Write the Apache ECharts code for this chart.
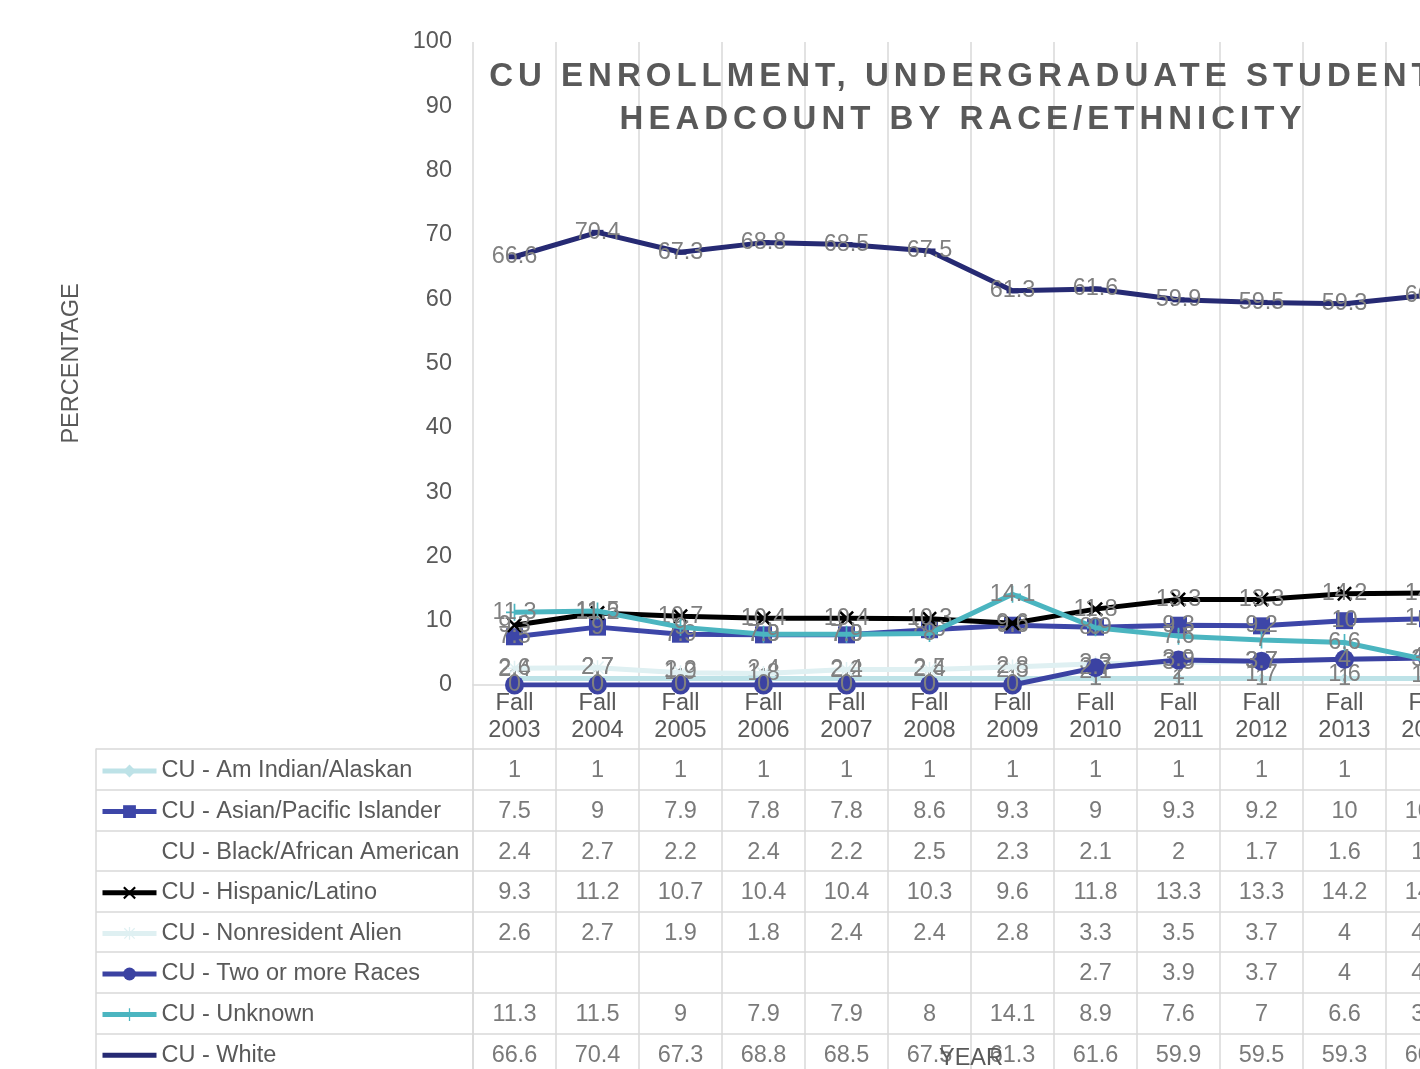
<!DOCTYPE html>
<html>
<head>
<meta charset="utf-8">
<script src="https://cdn.jsdelivr.net/npm/echarts@6/dist/echarts.min.js"></script>
<style>
  html, body { margin: 0; padding: 0; background: #fff; overflow: hidden; }
  /* the original chart runs past the right edge of the picture */
  #chart { width: 1480px; height: 1069px; }
</style>
</head>
<body>
<div id="chart"></div>
<script>
// spaced-out bold title, like the Excel style
var origFill = CanvasRenderingContext2D.prototype.fillText
CanvasRenderingContext2D.prototype.fillText = function (t, x, y, w) {
  this.letterSpacing = /bold|700/.test(this.font) ? '5px' : '0px'
  return w === undefined ? origFill.call(this, t, x, y) : origFill.call(this, t, x, y, w)
}

var categories = ['Fall 2003', 'Fall 2004', 'Fall 2005', 'Fall 2006', 'Fall 2007', 'Fall 2008',
  'Fall 2009', 'Fall 2010', 'Fall 2011', 'Fall 2012', 'Fall 2013', 'Fall 2014']
var seriesNames = ['CU - Am Indian/Alaskan', 'CU - Asian/Pacific Islander', 'CU - Black/African American',
  'CU - Hispanic/Latino', 'CU - Nonresident Alien', 'CU - Two or more Races', 'CU - Unknown', 'CU - White']
var amIndian = [1, 1, 1, 1, 1, 1, 1, 1, 1, 1, 1, 1]
var asian = [7.5, 9, 7.9, 7.8, 7.8, 8.6, 9.3, 9, 9.3, 9.2, 10, 10.3]
var black = [2.4, 2.7, 2.2, 2.4, 2.2, 2.5, 2.3, 2.1, 2, 1.7, 1.6, 1.5]
var hispanic = [9.3, 11.2, 10.7, 10.4, 10.4, 10.3, 9.6, 11.8, 13.3, 13.3, 14.2, 14.3]
var nonresident = [2.6, 2.7, 1.9, 1.8, 2.4, 2.4, 2.8, 3.3, 3.5, 3.7, 4, 4.3]
var twoOrMore = [null, null, null, null, null, null, null, 2.7, 3.9, 3.7, 4, 4.2]
var unknown = [11.3, 11.5, 9, 7.9, 7.9, 8, 14.1, 8.9, 7.6, 7, 6.6, 3.9]
var white = [66.6, 70.4, 67.3, 68.8, 68.5, 67.5, 61.3, 61.6, 59.9, 59.5, 59.3, 60.6]
var yTicks = [0, 10, 20, 30, 40, 50, 60, 70, 80, 90, 100]

var allValues = [amIndian, asian, black, hispanic, nonresident, twoOrMore, unknown, white]

var xPath = 'path://M1.2 0 L5 3.8 L8.8 0 L10 1.2 L6.2 5 L10 8.8 L8.8 10 L5 6.2 L1.2 10 L0 8.8 L3.8 5 L0 1.2 Z'
var plusPath = 'path://M4.5 0 H5.5 V4.5 H10 V5.5 H5.5 V10 H4.5 V5.5 H0 V4.5 H4.5 Z'
var starPath = 'path://M4.5 0 H5.5 V10 H4.5 Z M0 4.5 H10 V5.5 H0 Z M1.3 0.6 L9.4 8.7 L8.7 9.4 L0.6 1.3 Z M8.7 0.6 L9.4 1.3 L1.3 9.4 L0.6 8.7 Z'

var styles = [
  { color: '#bde2e7', symbol: 'diamond', size: 11 },
  { color: '#3d46a8', symbol: 'rect', size: 17 },
  { color: 'transparent', symbol: 'circle', size: 1 },
  { color: '#000000', symbol: xPath, size: 15 },
  { color: '#dff0f2', symbol: starPath, size: 15 },
  { color: '#3b42a2', symbol: 'circle', size: 19 },
  { color: '#4bb5c0', symbol: plusPath, size: 17 },
  { color: '#262a73', symbol: 'rect', size: [12, 5] }
]

var gray = '#d9d9d9'
var textColor = '#595959'
var font = 'Liberation Sans'
var fs = 23.5

var series = seriesNames.map(function (name, i) {
  var st = styles[i]
  return {
    name: name,
    type: 'line',
    xAxisIndex: 0,
    yAxisIndex: 0,
    // blanks are plotted as zero
    data: allValues[i].map(function (v) { return v == null ? 0 : v }),
    symbol: st.symbol,
    symbolSize: st.size,
    lineStyle: { width: 5, color: st.color },
    itemStyle: { color: st.color },
    label: {
      show: true,
      position: 'inside',
      color: '#808080',
      fontSize: fs,
      fontFamily: font
    },
    emphasis: { disabled: true },
    animation: false,
    z: 2 + i
  }
})

// data table cells
var cells = []
allValues.forEach(function (arr, r) {
  arr.forEach(function (v, c) {
    if (v != null) cells.push([c, r, v])
  })
})
series.push({
  type: 'scatter',
  xAxisIndex: 1,
  yAxisIndex: 1,
  data: cells,
  symbolSize: 1,
  itemStyle: { color: 'transparent' },
  label: {
    show: true,
    position: 'inside',
    offset: [0, 1.5],
    color: textColor,
    fontSize: fs,
    fontFamily: font,
    formatter: function (p) { return p.value[2] }
  },
  silent: true,
  animation: false
})

var legendData = seriesNames.map(function (name, i) {
  if (i === 2) return { name: name, itemStyle: { opacity: 0 }, lineStyle: { opacity: 0 } }
  if (i === 7) return { name: name, itemStyle: { opacity: 0 } }
  return { name: name }
})

var chart = echarts.init(document.getElementById('chart'))
chart.setOption({
  backgroundColor: '#fff',
  animation: false,
  title: {
    text: 'CU ENROLLMENT, UNDERGRADUATE STUDENT\nHEADCOUNT BY RACE/ETHNICITY',
    left: 958,
    top: 50,
    textAlign: 'center',
    textStyle: {
      color: textColor,
      fontSize: 33,
      fontWeight: 'bold',
      fontFamily: font,
      lineHeight: 43
    }
  },
  legend: {
    orient: 'vertical',
    left: 100,
    top: 759,
    padding: 0,
    itemWidth: 54,
    itemHeight: 16,
    itemGap: 16.6,
    data: legendData,
    selectedMode: false,
    lineStyle: { width: 5 },
    textStyle: { color: textColor, fontSize: fs, fontFamily: font, lineHeight: 24 }
  },
  grid: [
    { left: 473, right: 11, top: 42, bottom: 384, outerBoundsMode: 'none' },
    { left: 473, right: 11, top: 749, height: 325, outerBoundsMode: 'none' },
    { left: 96, width: 377, top: 749, height: 325, outerBoundsMode: 'none' }
  ],
  xAxis: [
    {
      type: 'category',
      gridIndex: 0,
      data: categories,
      boundaryGap: true,
      name: 'YEAR',
      nameLocation: 'middle',
      nameGap: 362,
      nameTextStyle: { color: textColor, fontSize: fs, fontFamily: font },
      axisLine: { lineStyle: { color: gray, width: 1.5 } },
      axisTick: { show: true, length: 64, interval: 0, lineStyle: { color: gray, width: 1.5 } },
      axisLabel: {
        color: textColor,
        fontSize: fs,
        fontFamily: font,
        lineHeight: 27,
        margin: 5,
        interval: 0,
        formatter: function (v) { return v.replace(' ', '\n') }
      },
      splitLine: { show: true, interval: 0, lineStyle: { color: gray, width: 1.5 } }
    },
    {
      type: 'category',
      gridIndex: 1,
      data: categories,
      axisLabel: { show: false },
      axisTick: { show: false },
      axisLine: { show: true, lineStyle: { color: gray, width: 1.5 } },
      splitLine: { show: true, interval: 0, lineStyle: { color: gray, width: 1.5 } }
    },
    {
      type: 'value',
      gridIndex: 2,
      show: false
    }
  ],
  yAxis: [
    {
      type: 'value',
      gridIndex: 0,
      min: 0,
      max: 100,
      interval: 10,
      name: 'PERCENTAGE',
      nameLocation: 'middle',
      nameGap: 389,
      nameTextStyle: { color: textColor, fontSize: fs, fontFamily: font },
      axisLine: { show: false },
      axisTick: { show: false },
      splitLine: { show: false },
      axisLabel: {
        color: textColor,
        fontSize: fs,
        fontFamily: font,
        margin: 21,
        padding: [3, 0, 0, 0],
        customValues: yTicks
      }
    },
    {
      type: 'category',
      gridIndex: 1,
      inverse: true,
      data: seriesNames,
      axisLabel: { show: false },
      axisTick: { show: false },
      axisLine: { show: true, lineStyle: { color: gray, width: 1.5 } },
      splitLine: { show: true, interval: 0, lineStyle: { color: gray, width: 1.5 } }
    },
    {
      type: 'category',
      gridIndex: 2,
      inverse: true,
      data: seriesNames,
      axisLabel: { show: false },
      axisTick: { show: false },
      axisLine: { show: true, lineStyle: { color: gray, width: 1.5 } },
      splitLine: { show: true, interval: 0, lineStyle: { color: gray, width: 1.5 } }
    }
  ],
  series: series
})
</script>
</body>
</html>
